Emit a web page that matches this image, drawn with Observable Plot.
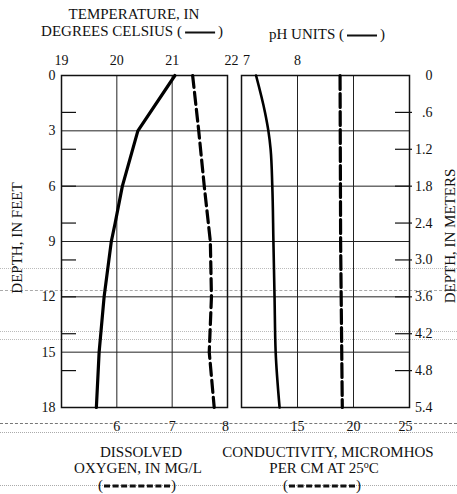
<!DOCTYPE html>
<html><head><meta charset="utf-8">
<script src="https://cdn.jsdelivr.net/npm/d3@7"></script>
<script src="https://cdn.jsdelivr.net/npm/@observablehq/plot@0.6"></script>
<style>
body{margin:0;background:#fff;}
#c{position:relative;width:457px;height:494px;font-family:"Liberation Serif","DejaVu Serif",serif;color:#111;overflow:hidden;background:#fff}
#c svg{position:absolute;left:0;top:0;}
.t{position:absolute;white-space:nowrap;font-size:15px;line-height:1;transform:translate(-50%,-50%)}
.r{transform:translate(-50%,-50%) rotate(-90deg)}
.sw{display:inline-block;width:30px;vertical-align:middle;border-top:2px solid #111;margin:0 3px}
.dw{display:inline-block;width:66px;vertical-align:middle;border-top:3px dashed #111;margin:0 1px}
.deg{font-size:10px;line-height:0;position:relative;top:-5px}
.art{position:absolute;left:0;width:457px;height:0}
</style></head><body><div id="c"></div>
<script>
// ---- data ----
const tempDepth = [0, 3, 6, 8, 9, 12, 15, 18];
const temperature = [21.05, 20.38, 20.10, 19.97, 19.90, 19.77, 19.68, 19.63];
const doDepth = [0, 3, 6, 9, 12, 15, 18];
const dissolvedOxygen = [7.37, 7.48, 7.58, 7.69, 7.71, 7.67, 7.76];
const phDepth = [0, 2, 3, 4, 6, 9, 12, 15, 18];
const phValues = [7.26, 7.42, 7.48, 7.52, 7.55, 7.57, 7.59, 7.61, 7.68];
const condDepth = [0, 9, 18];
const conductivity = [18.8, 18.85, 19.0];
const feetTicks = [0, 3, 6, 9, 12, 15, 18];
const feetGrid = [3, 6, 9, 12, 15];
const meterTicks = [0, 0.6, 1.2, 1.8, 2.4, 3.0, 3.6, 4.2, 4.8, 5.4];
const tempTicks = [19, 20, 21, 22];
const tempGrid = [20, 21];
const doTicks = [6, 7, 8];
const phTicks = [7, 8];
const phGrid = [8, 9];
const condTicks = [15, 20, 25];

// ---- layout ----
const W = 457, H = 494, TOP = 75, BOT = 87;
const L1 = 61, R1 = W - 227, L2 = 241, R2 = W - 409;
const c = document.getElementById("c");

// faint scan lines of the printed page (decorative, behind the chart)
[[423, "1px dashed #777"], [432, "1px dotted #aaa"], [485, "1px dotted #aaa"], [290, "1px dashed #aaa"], [268, "1px dotted #bbb"], [331, "1px dotted #bbb"], [339, "1px dotted #bbb"]]
  .forEach(([y, b]) => { const d = document.createElement("div"); d.className = "art"; d.style.top = y + "px"; d.style.borderTop = b; c.appendChild(d); });

const font = {background: "transparent", fontFamily: "'Liberation Serif','DejaVu Serif',serif", fontSize: "14px", color: "#111"};
const yFeet = {domain: [0, 18], reverse: true, axis: null};
const add = (p) => c.appendChild(p);
const zip = (ys, xs) => ys.map((d, i) => ({depth: d, v: xs[i]}));

// base: horizontal grid + depth in feet
add(Plot.plot({
  width: W, height: H, marginLeft: L1, marginRight: R2, marginTop: TOP, marginBottom: BOT, style: font,
  y: yFeet,
  marks: [
    Plot.ruleY(feetGrid, {stroke: "#222", strokeWidth: 1}),
    Plot.axisY(feetTicks, {anchor: "left", tickSize: 0, tickPadding: 6, label: null, fontSize: 14})
  ]
}));

// temperature panel
add(Plot.plot({
  width: W, height: H, marginLeft: L1, marginRight: R1, marginTop: TOP, marginBottom: BOT, style: font,
  x: {domain: [19, 22], axis: null}, y: yFeet,
  marks: [
    Plot.ruleX(tempGrid, {stroke: "#222", strokeWidth: 1}),
    Plot.frame({stroke: "#111", strokeWidth: 1.5}),
    Plot.line(zip(tempDepth, temperature), {x: "v", y: "depth", stroke: "#000", strokeWidth: 3.2, curve: "linear"}),
    Plot.axisX(tempTicks.slice(0, 3), {anchor: "top", tickSize: 0, tickPadding: 11, label: null, fontSize: 14}),
    Plot.axisX(tempTicks.slice(3), {anchor: "top", tickSize: 0, tickPadding: 11, label: null, fontSize: 14, dx: 4})
  ]
}));

// dissolved oxygen (same panel)
add(Plot.plot({
  width: W, height: H, marginLeft: L1, marginRight: R1, marginTop: TOP, marginBottom: BOT, style: font,
  x: {domain: [5, 8], axis: null}, y: yFeet,
  marks: [
    Plot.line(zip(doDepth, dissolvedOxygen), {x: "v", y: "depth", stroke: "#000", strokeWidth: 3.2, strokeDasharray: "12,5"}),
    Plot.axisX(doTicks.slice(0, 2), {anchor: "bottom", tickSize: 0, tickPadding: 14, label: null, fontSize: 14}),
    Plot.axisX(doTicks.slice(2), {anchor: "bottom", tickSize: 0, tickPadding: 14, label: null, fontSize: 14, dx: -2})
  ]
}));

// pH panel
add(Plot.plot({
  width: W, height: H, marginLeft: L2, marginRight: R2, marginTop: TOP, marginBottom: BOT, style: font,
  x: {domain: [7, 10], axis: null}, y: yFeet,
  marks: [
    Plot.ruleX(phGrid, {stroke: "#222", strokeWidth: 1}),
    Plot.frame({stroke: "#111", strokeWidth: 1.5}),
    Plot.line(zip(phDepth, phValues), {x: "v", y: "depth", stroke: "#000", strokeWidth: 2.6, curve: "monotone-y"}),
    Plot.axisX(phTicks.slice(0, 1), {anchor: "top", tickSize: 0, tickPadding: 11, label: null, fontSize: 14, dx: 5}),
    Plot.axisX(phTicks.slice(1), {anchor: "top", tickSize: 0, tickPadding: 11, label: null, fontSize: 14})
  ]
}));

// conductivity (same panel)
add(Plot.plot({
  width: W, height: H, marginLeft: L2, marginRight: R2, marginTop: TOP, marginBottom: BOT, style: font,
  x: {domain: [10, 25], axis: null}, y: yFeet,
  marks: [
    Plot.line(zip(condDepth, conductivity), {x: "v", y: "depth", stroke: "#000", strokeWidth: 3.2, strokeDasharray: "14,4"}),
    Plot.axisX(condTicks.slice(0, 2), {anchor: "bottom", tickSize: 0, tickPadding: 14, label: null, fontSize: 14}),
    Plot.axisX(condTicks.slice(2), {anchor: "bottom", tickSize: 0, tickPadding: 14, label: null, fontSize: 14, dx: -4})
  ]
}));

// depth in meters: ticks in both panels, labels on the right
const inner = meterTicks.filter(d => d > 0 && d < 5.4);
const FW = W - L1 - R2;
add(Plot.plot({
  width: W, height: H, marginLeft: L1, marginRight: R2, marginTop: TOP, marginBottom: BOT, style: font,
  y: {domain: [0, 5.4], reverse: true, axis: null},
  marks: [
    Plot.tickY(inner, {y: d => d, insetRight: FW - 15, stroke: "#111", strokeWidth: 1.2}),
    Plot.tickY(inner, {y: d => d, insetLeft: FW - 14, insetRight: -3, stroke: "#111", strokeWidth: 1.2}),
    Plot.axisY(meterTicks, {anchor: "right", tickSize: 0, tickPadding: 0, dx: 23, textAnchor: "end", label: null, fontSize: 14,
      tickFormat: d => d === 0 ? "0" : d < 1 ? d.toFixed(1).slice(1) : d.toFixed(1)})
  ]
}));

// text
const txt = (html, x, y, cls = "") => {
  const d = document.createElement("div");
  d.className = "t " + cls; d.style.left = x + "px"; d.style.top = y + "px"; d.innerHTML = html; c.appendChild(d);
};
txt("TEMPERATURE, IN", 134, 14);
txt('DEGREES CELSIUS (<span class="sw"></span>)', 132, 31);
txt('pH UNITS (<span class="sw"></span>)', 327, 34);
txt("DISSOLVED", 141, 452);
txt("OXYGEN, IN MG/L", 138, 468);
txt('(<span class="dw"></span>)', 137, 485);
txt("CONDUCTIVITY, MICROMHOS", 328, 452);
txt('PER CM AT 25<span class="deg">o</span>C', 324, 468);
txt('(<span class="dw"></span>)', 322, 485);
txt("DEPTH, IN FEET", 17, 238, "r");
txt("DEPTH, IN METERS", 450, 236, "r");
</script></body></html>
